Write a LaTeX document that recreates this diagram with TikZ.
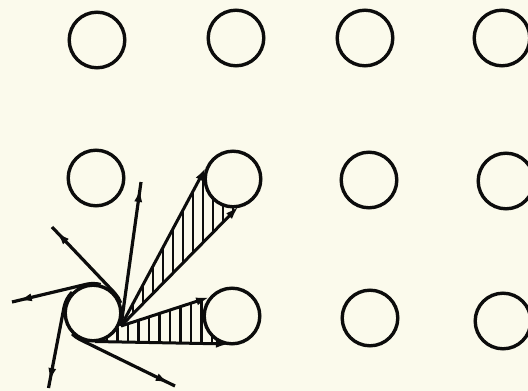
\documentclass[tikz,border=0pt]{standalone}
\usetikzlibrary{arrows.meta,decorations.markings,calc}
\definecolor{bg}{RGB}{251,250,236}
\definecolor{ink}{RGB}{12,12,12}
\begin{document}
\begin{tikzpicture}[x=1pt,y=-1pt,
  ring/.style={circle, draw=ink, line width=3.4pt, fill=bg, minimum size=55.6pt, inner sep=0pt, outer sep=0pt},
  rope/.style={draw=ink, line width=3.2pt},
  tipnear/.style={postaction={decorate}, decoration={markings, mark=at position -6pt with {\arrow{Latex[length=14pt,width=8pt]}}}},
  fanline/.style={draw=ink, line width=3pt, -{Latex[length=14pt,width=8pt]}},
  hatchline/.style={draw=ink, line width=2.3pt}]
\useasboundingbox (0,0) rectangle (528,391);
\fill[bg] (0,0) rectangle (528,391);
\clip (0,0) rectangle (528,391);
% centres
\coordinate (C1) at (93,313);
\coordinate (C2) at (233,179);
\coordinate (C3) at (232,316);
% fan points
\coordinate (V) at (121,326);
\coordinate (T1) at (206,167);
\coordinate (E1) at (239,206);
\coordinate (U2) at (210,297);
\coordinate (B1) at (95,341.5);
\coordinate (B3) at (230,344);
% free ends
\coordinate (upend) at (141,182);
\coordinate (ulstart) at (120.7,302.9);
\coordinate (ulend) at (52,227);
\coordinate (lstart) at (100.6,284.5);
\coordinate (lend) at (12,302);
\coordinate (dstart) at (72.1,292.1);
\coordinate (dend) at (48.5,388);
\coordinate (lrstart) at (72.1,333.9);
\coordinate (lrend) at (175,386);
% hatching
\begin{scope}
  \clip (V) -- (T1) -- (C2) -- (E1) -- cycle;
  \foreach \x in {133,143,...,253} \draw[hatchline] (\x,140) -- (\x,340);
\end{scope}
\begin{scope}
  \clip (V) -- (U2) -- (C3) -- (B3) -- (B1) -- cycle;
  \foreach \x in {107,117.5,...,245} \draw[hatchline] (\x,280) -- (\x,350);
\end{scope}
% circles
\node[ring] (c11) at (97,40) {};
\node[ring] (c12) at (236,38) {};
\node[ring] (c13) at (365,38) {};
\node[ring] (c14) at (502,38) {};
\node[ring] (c21) at (96,178) {};
\node[ring] (c22) at (C2) {};
\node[ring] (c23) at (369,180) {};
\node[ring] (c24) at (506,181) {};
\node[ring] (c31) at (C1) {};
\node[ring] (c32) at (C3) {};
\node[ring] (c33) at (370,318) {};
\node[ring] (c34) at (503,321) {};
% fan edges
\draw[fanline] (V) -- (T1);
\draw[fanline] (V) -- (E1);
\draw[fanline] (V) -- (U2);
\draw[fanline] (B1) -- (B3);
% free arrows
\draw[rope,tipnear] (V) -- (upend);
\draw[rope,tipnear] (ulstart) arc[start angle=-20, end angle=-42.5, radius=29.5] -- (ulend);
\draw[rope,tipnear] (lstart) arc[start angle=-75, end angle=-102, radius=29.5] -- (lend);
\draw[rope,tipnear] (dstart) arc[start angle=-135, end angle=-169, radius=29.5] -- (dend);
\draw[rope,tipnear] (lrstart) arc[start angle=135, end angle=116, radius=29.5] -- (lrend);
\end{tikzpicture}
\end{document}
